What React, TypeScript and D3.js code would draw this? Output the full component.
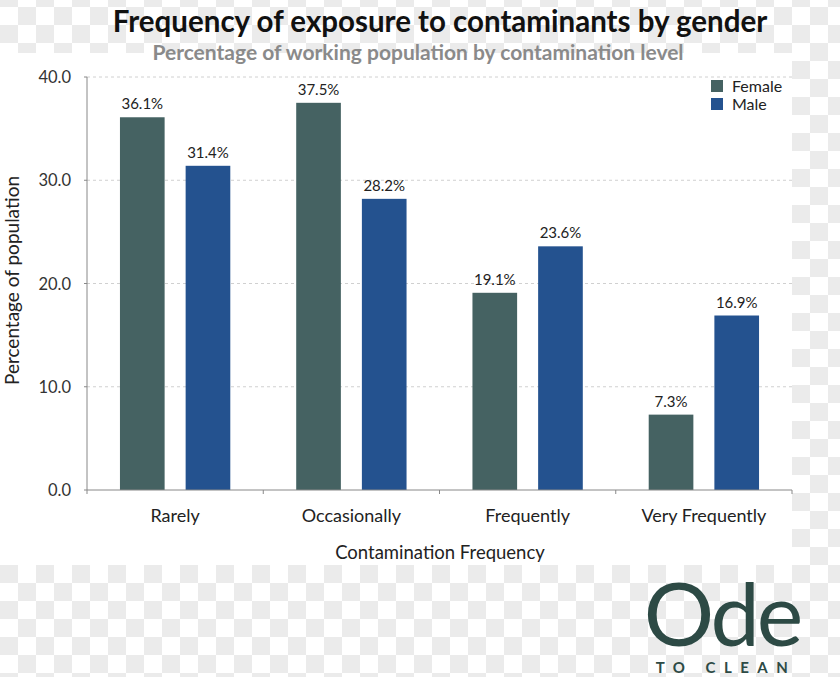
import React from "react";
import * as d3 from "d3";

const categories = ["Rarely", "Occasionally", "Frequently", "Very Frequently"];
const seriesNames = ["Female", "Male"];
const femaleValues = [36.1, 37.5, 19.1, 7.3];
const maleValues = [31.4, 28.2, 23.6, 16.9];
const yTicks = [0, 10, 20, 30, 40];
const colors = ["#456262", "#24528f"];

const W = 840;
const H = 677;
const FONT = "Lato, 'Open Sans', sans-serif";

export default function App() {
  const left = 87;
  const right = 792;
  const top = 77;
  const bottom = 490;

  const x = d3.scaleBand<string>().domain(categories).range([left, right]).padding(0);
  const bw = x.bandwidth();
  const xi = d3
    .scaleBand<string>()
    .domain(seriesNames)
    .range([bw * 0.187, bw * 0.813])
    .paddingInner(0.32)
    .paddingOuter(0);
  const y = d3.scaleLinear().domain([0, 40]).range([bottom, top]);
  const values = [femaleValues, maleValues];

  return (
    <svg
      width={W}
      height={H}
      style={{ position: "absolute", left: 0, top: 0 }}
      fontFamily={FONT}
    >
      <defs>
        <pattern id="checker" width={36} height={36} patternUnits="userSpaceOnUse" x={0} y={565}>
          <rect width={36} height={36} fill="#ffffff" />
          <rect x={0} y={0} width={18} height={18} fill="#ebebeb" />
          <rect x={18} y={18} width={18} height={18} fill="#ebebeb" />
        </pattern>
      </defs>
      <rect width={W} height={H} fill="url(#checker)" />
      <rect x={0} y={53} width={792} height={512} fill="#ffffff" />

      <text x={440} y={32} textAnchor="middle" fontSize={29.5} fontWeight={700} fill="#111">
        Frequency of exposure to contaminants by gender
      </text>
      <text x={418} y={60} textAnchor="middle" fontSize={21} fontWeight={700} fill="#8a8a8a">
        Percentage of working population by contamination level
      </text>

      {yTicks.map((t) => (
        <g key={t}>
          {t > 0 && (
            <line
              x1={left}
              x2={right}
              y1={y(t)}
              y2={y(t)}
              stroke="#d0d0d0"
              strokeDasharray="3,3"
              strokeWidth={1}
            />
          )}
          <line x1={left - 3} x2={left} y1={y(t)} y2={y(t)} stroke="#888" />
          <text x={71} y={y(t) + 6} textAnchor="end" fontSize={16.5} fill="#333">
            {t.toFixed(1)}
          </text>
        </g>
      ))}

      {categories.map((c, ci) => (
        <g key={c}>
          {seriesNames.map((s, si) => {
            const v = values[si][ci];
            const bx = (x(c) as number) + (xi(s) as number);
            return (
              <g key={s}>
                <rect
                  x={bx}
                  y={y(v)}
                  width={xi.bandwidth()}
                  height={y(0) - y(v)}
                  fill={colors[si]}
                />
                <text
                  x={bx + xi.bandwidth() / 2}
                  y={y(v) - 8}
                  textAnchor="middle"
                  fontSize={15}
                  fill="#222"
                >
                  {v.toFixed(1)}%
                </text>
              </g>
            );
          })}
          <text
            x={(x(c) as number) + bw / 2}
            y={522}
            textAnchor="middle"
            fontSize={18}
            fill="#222"
          >
            {c}
          </text>
        </g>
      ))}

      <line x1={left} x2={left} y1={top} y2={bottom} stroke="#888" strokeWidth={1} />
      <line x1={left} x2={right} y1={bottom} y2={bottom} stroke="#888" strokeWidth={1} />
      {categories.map((c) => (
        <line
          key={"t" + c}
          x1={x(c) as number}
          x2={x(c) as number}
          y1={bottom}
          y2={bottom + 4}
          stroke="#888"
        />
      ))}
      <line x1={right} x2={right} y1={bottom} y2={bottom + 4} stroke="#888" />

      <text
        transform={`translate(19, ${(top + bottom) / 2 - 3}) rotate(-90)`}
        textAnchor="middle"
        fontSize={19}
        fill="#222"
      >
        Percentage of population
      </text>
      <text x={440} y={559} textAnchor="middle" fontSize={18.5} fill="#222">
        Contamination Frequency
      </text>

      {seriesNames.map((s, i) => (
        <g key={"lg" + s} transform={`translate(711, ${80 + i * 18})`}>
          <rect width={12} height={12} fill={colors[i]} />
          <text x={21} y={12} fontSize={16} fill="#222">
            {s}
          </text>
        </g>
      ))}

      <text x={722} y={646} textAnchor="middle" fontSize={88} fontWeight={400} fill="#2d4a45" letterSpacing={-3}>
        Ode
      </text>
      <text x={726} y={673} textAnchor="middle" fontSize={15} fontWeight={700} fill="#2d4a45" letterSpacing={8.5}>
        TO CLEAN
      </text>
    </svg>
  );
}
